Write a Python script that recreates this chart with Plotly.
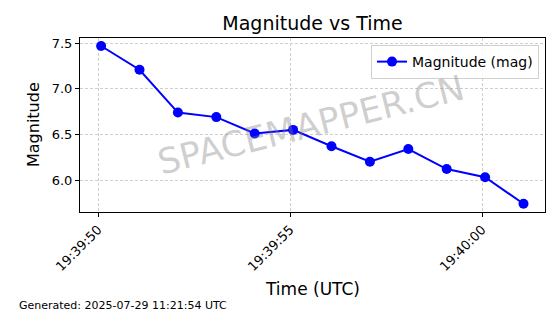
import plotly.graph_objects as go

times = ["2025-07-28 19:39:50.08", "2025-07-28 19:39:51.08", "2025-07-28 19:39:52.08",
         "2025-07-28 19:39:53.08", "2025-07-28 19:39:54.08", "2025-07-28 19:39:55.08",
         "2025-07-28 19:39:56.08", "2025-07-28 19:39:57.08", "2025-07-28 19:39:58.08",
         "2025-07-28 19:39:59.08", "2025-07-28 19:40:00.08", "2025-07-28 19:40:01.08"]
magnitude = [7.47, 7.21, 6.74, 6.69, 6.51, 6.55, 6.37, 6.20, 6.34, 6.12, 6.03, 5.74]
series_name = "Magnitude (mag)"
y_ticks = [6.0, 6.5, 7.0, 7.5]

W, H = 560, 314
L, R, T, B = 80, 15, 38, 102
pw, ph = W - L - R, H - T - B

def px_x(px):
    return (px - L) / pw

def px_y(py):
    return (H - B - py) / ph

font = "DejaVu Sans, Arial, sans-serif"

fig = go.Figure()
fig.add_trace(go.Scatter(
    x=times, y=magnitude, mode="lines+markers", name=series_name,
    line=dict(color="#0000ff", width=2),
    marker=dict(color="#0000ff", size=10),
))

fig.update_layout(
    width=W, height=H,
    margin=dict(l=L, r=R, t=T, b=B),
    paper_bgcolor="white", plot_bgcolor="white",
    font=dict(family=font, color="black", size=13),
    title=dict(text="Magnitude vs Time", x=0.5, xref="paper", y=1 - 23 / H,
               yref="container", xanchor="center", yanchor="middle",
               font=dict(size=19, color="black", family=font)),
    showlegend=True,
    legend=dict(x=px_x(539), y=px_y(45), xanchor="right", yanchor="top",
                bgcolor="rgba(255,255,255,0.8)", bordercolor="#d0d0d0", borderwidth=1,
                font=dict(size=14, family=font), itemwidth=30),
)

fig.update_xaxes(
    type="date", range=["2025-07-28 19:39:49.53", "2025-07-28 19:40:01.64"],
    tick0="2025-07-28 19:39:50", dtick=5000, tickformat="%H:%M:%S",
    tickangle=-45, ticks="outside", ticklen=4, tickcolor="black",
    showline=True, linecolor="black", linewidth=1, mirror=True,
    showgrid=True, gridcolor="#cfcfcf", griddash="3px,2px", gridwidth=1,
    zeroline=False, tickfont=dict(size=13),
)
fig.update_yaxes(
    range=[5.649, 7.558], tickvals=y_ticks, tickformat=".1f",
    ticks="outside", ticklen=4, tickcolor="black",
    showline=True, linecolor="black", linewidth=1, mirror=True,
    showgrid=True, gridcolor="#cfcfcf", griddash="3px,2px", gridwidth=1,
    zeroline=False, tickfont=dict(size=13),
)

fig.add_annotation(text="Time (UTC)", xref="paper", yref="paper", x=0.5, y=px_y(289),
                   xanchor="center", yanchor="middle", showarrow=False,
                   font=dict(size=17, family=font))
fig.add_annotation(text="Magnitude", xref="paper", yref="paper", x=px_x(33), y=0.5,
                   xanchor="center", yanchor="middle", showarrow=False, textangle=-90,
                   font=dict(size=16, family=font))
fig.add_annotation(text="Generated: 2025-07-29 11:21:54 UTC", xref="paper", yref="paper",
                   x=px_x(17), y=px_y(305), xanchor="left", yanchor="middle", showarrow=False,
                   font=dict(size=11, family=font))
fig.add_annotation(text="SPACEMAPPER.CN", xref="paper", yref="paper", x=px_x(311), y=px_y(125),
                   xanchor="center", yanchor="middle", showarrow=False, textangle=-14,
                   font=dict(size=35, family=font, color="rgba(128,128,128,0.38)"))

fig.write_html("out.html")
